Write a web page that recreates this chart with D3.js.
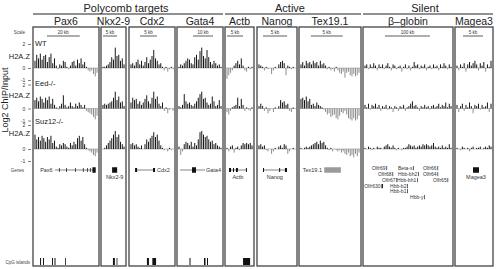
<!DOCTYPE html>
<html>
<head>
<meta charset="utf-8">
<script src="https://cdn.jsdelivr.net/npm/d3@7"></script>
<style>
  body { margin: 0; background: #fff; }
  svg { display: block; font-family: "Liberation Sans", Arial, sans-serif; }
</style>
</head>
<body>
<script>
const width = 497, height = 269

// loci, groups, genotypes
const panelNames = ['Pax6', 'Nkx2-9', 'Cdx2', 'Gata4', 'Actb', 'Nanog', 'Tex19.1', 'β–globin', 'Magea3']
const groupNames = ['Polycomb targets', 'Active', 'Silent']
const groupOf = [0, 0, 0, 0, 1, 1, 1, 2, 2]
const genotypes = ['WT', 'Eed-/-', 'Suz12-/-']
const yTicks = [2, 0, -1]

// window size of each locus and its scale bar (kb)
const windowKb = [39, 8.2, 13, 22, 8.4, 7.9, 9.4, 196, 9]
const scaleKb = [20, 5, 5, 10, 5, 5, 5, 100, 5]
const scaleStartKb = [7.9, 0.36, 2.95, 7.5, 0.3, 1.04, 1.7, 46.8, 1.75]

// H2A.Z log2 ChIP/Input per bin
const pax6WT = [0.6,1.1,0.8,1.2,0.7,1.0,1.1,0.5,0.9,1.2,0.4,0.8,0.2,-0.1,0.3,0.2,0.6,0.5,0.1,-0.1,0.2,0.5,0.6,0.2,0.7,0.4,0.8,0.3,0.5,0.1,-0.2,-0.3,-0.2,-0.5,-0.7,-0.4]
const pax6Eed = [0.7,0.9,0.6,1.0,0.8,0.5,0.9,0.7,1.0,0.4,0.8,0.3,0.1,-0.1,0.2,0.4,1.1,0.3,0.1,0.2,0.5,0.2,0.1,0.4,0.2,0.5,0.3,0.1,0.3,-0.2,-0.3,-0.4,-0.5,-0.7,-0.9,-0.6]
const pax6Suz12 = [1.2,0.8,1.0,0.7,1.1,0.9,0.6,1.0,0.8,1.1,0.5,0.7,0.2,0.1,0.4,0.3,0.5,0.4,0.2,0.1,0.5,0.3,0.6,0.4,0.9,1.1,0.7,1.0,0.4,0.1,-0.1,-0.2,-0.3,-0.5,-0.6,-0.3]

const nkx29WT = [0.1,0.1,0.2,0.3,0.5,0.9,0.7,1.7,1.0,1.1,0.6,0.8,0.3]
const nkx29Eed = [0.3,0.4,0.3,0.4,0.5,0.6,0.9,1.4,0.7,1.0,0.5,0.6,0.2]
const nkx29Suz12 = [0.0,0.1,0.3,0.5,0.7,0.9,1.2,1.5,1.0,1.2,0.6,0.4,0.2]

const cdx2WT = [0.3,0.4,0.2,0.5,0.7,0.3,0.6,0.2,0.5,0.9,0.4,0.7,1.0,1.5,0.8,0.6,0.3,0.4,0.1,-0.2,0.1,-0.3,-0.1,0.1,-0.1]
const cdx2Eed = [0.5,0.9,0.7,0.8,0.4,0.6,0.3,0.5,0.8,1.1,0.6,0.4,0.9,1.4,0.8,1.0,0.4,0.2,0.5,-0.2,0.1,-0.4,-0.1,0.0,-0.2]
const cdx2Suz12 = [0.4,0.5,0.3,0.4,0.2,0.1,0.3,0.0,0.4,0.8,0.6,0.9,1.1,1.4,1.0,1.2,0.7,0.3,0.1,-0.1,0.0,-0.2,0.1,-0.1,0.0]

const gata4WT = [0.1,0.3,0.2,0.4,0.6,0.8,0.7,0.4,0.3,0.9,1.1,0.7,1.4,1.7,1.0,0.8,1.5,0.9,0.5,0.3,0.6,0.4,0.2,0.3,0.1]
const gata4Eed = [0.2,0.1,0.3,1.2,0.6,0.4,0.5,0.3,0.2,0.4,0.6,0.9,1.2,1.4,0.8,0.9,0.5,0.3,0.4,1.0,0.6,0.2,0.3,0.7,0.2]
const gata4Suz12 = [0.2,-0.5,-0.2,0.4,0.6,0.5,0.3,0.6,0.2,0.5,0.3,0.8,1.4,1.5,1.2,1.0,1.1,0.8,0.6,0.7,0.4,0.5,0.3,0.2,0.1]

const actbWT = [-0.9,-0.6,-0.4,-0.2,0.2,0.4,0.6,0.3,0.8,0.2,-0.2,-0.3,0.1,-0.1,0.1]
const actbEed = [-0.3,-0.5,-0.2,0.1,0.2,0.3,0.9,0.2,0.8,0.3,-0.2,0.1,-0.1,-0.2,0.1]
const actbSuz12 = [0.1,-0.2,0.2,0.3,-0.3,0.1,0.2,-0.1,0.3,0.5,0.4,0.5,0.4,0.5,0.3]

const nanogWT = [0.3,0.2,0.1,-0.2,0.1,-0.1,0.0,-0.5,-0.2,0.1,0.0,0.3,0.5,0.6,0.4,-0.6,0.2,0.1,-0.1,0.1,0.0]
const nanogEed = [0.2,0.4,0.2,-0.2,0.1,-0.4,-0.2,0.0,-0.3,0.1,0.0,0.2,0.7,0.5,0.6,0.3,0.4,-0.2,-0.3,0.1,0.0]
const nanogSuz12 = [0.3,0.4,0.2,0.3,-0.1,-0.2,0.0,-0.4,-0.2,0.1,0.0,0.2,0.3,0.1,0.4,0.3,-0.4,-0.2,0.0,0.1,0.0]

const tex191WT = [0.3,0.5,0.2,0.6,0.4,0.5,0.3,0.6,0.4,0.5,0.2,0.6,0.3,0.4,0.2,-0.1,0.1,-0.2,-0.1,-0.3,0.1,-0.2,-0.4,-0.5,-0.3,-0.8,-0.4,-0.3,-0.6,-0.7,-0.5,-0.7,-0.6,-0.4]
const tex191Eed = [0.8,0.9,0.7,1.0,0.6,0.8,0.3,0.4,0.2,0.5,0.3,0.2,0.1,-0.1,-0.3,-0.5,-0.4,-0.7,-0.6,-0.5,-0.8,-0.9,-0.6,-0.3,-0.4,-0.2,-0.5,-0.8,-0.9,-1.0,-0.8,-1.0,-0.9,-0.6]
const tex191Suz12 = [0.1,0.0,0.1,0.2,0.1,0.2,0.3,0.4,0.5,0.6,0.4,0.7,0.5,0.6,0.3,0.1,-0.1,0.1,-0.2,0.0,-0.1,-0.2,-0.1,-0.3,-0.2,-0.4,-0.5,-0.3,-0.6,-0.5,-0.7,-0.4,-0.6,-0.3]

const hbbWT = [0.2,0.3,-0.1,0.3,0.1,0.4,0.2,-0.2,0.3,0.1,0.3,-0.1,0.2,0.4,0.1,-0.2,0.3,0.2,-0.1,0.1,0.2,-0.3,0.1,0.3,-0.1,0.2,-0.2,0.1,0.5,0.2,0.3,-0.1,0.2,0.1,0.3,-0.2,0.1,0.2,-0.1,0.3,0.1,0.2,-0.2,0.3,0.1,0.4,0.2,-0.1,0.3,0.1]
const hbbEed = [0.3,0.1,0.4,-0.1,0.3,0.2,0.4,0.1,0.3,-0.2,0.2,0.1,0.3,-0.1,0.2,0.1,-0.3,0.2,0.1,-0.2,0.2,0.1,0.3,-0.2,0.1,0.2,0.4,0.6,0.2,0.3,0.1,-0.2,0.2,0.1,0.3,0.1,0.2,-0.1,0.2,0.3,0.1,0.2,0.4,0.1,0.3,0.2,0.5,0.1,0.4,0.2]
const hbbSuz12 = [0.1,0.0,0.2,0.1,-0.1,0.1,0.0,0.2,0.1,0.1,0.0,0.2,0.3,0.4,0.2,0.1,0.3,0.1,-0.1,0.1,0.0,-0.1,0.1,0.1,0.2,0.4,0.3,0.2,0.3,0.1,0.2,0.3,0.2,0.4,0.3,0.4,0.3,0.2,0.3,0.5,0.2,0.1,0.2,0.1,0.3,0.1,0.2,0.1,0.4,0.1]

const magea3WT = [0.2,-0.2,0.3,0.1,0.4,-0.3,0.3,0.5,0.2,0.4,0.6,0.3,-0.2,0.4,0.2,0.5,-0.3,0.3,0.1,0.6]
const magea3Eed = [0.3,-0.3,0.2,0.4,-0.2,0.3,0.1,0.5,0.2,-0.4,0.3,0.2,0.4,-0.1,0.3,0.1,0.2,0.5,-0.3,0.4]
const magea3Suz12 = [0.1,0.0,-0.1,0.2,0.1,0.0,0.1,-0.2,0.1,0.2,0.0,0.1,0.1,0.2,0.0,0.1,0.2,0.1,0.3,0.2]

const signal = [
  [pax6WT, pax6Eed, pax6Suz12],
  [nkx29WT, nkx29Eed, nkx29Suz12],
  [cdx2WT, cdx2Eed, cdx2Suz12],
  [gata4WT, gata4Eed, gata4Suz12],
  [actbWT, actbEed, actbSuz12],
  [nanogWT, nanogEed, nanogSuz12],
  [tex191WT, tex191Eed, tex191Suz12],
  [hbbWT, hbbEed, hbbSuz12],
  [magea3WT, magea3Eed, magea3Suz12]
]

// gene models: [locus, startKb, endKb, kind]
const geneParts = [
  [0, 12.8, 37.2, 'line'], [0, 15.2, 15.5, 'exon'], [0, 19.5, 19.8, 'exon'], [0, 25.0, 25.3, 'exon'],
  [0, 29.8, 30.1, 'exon'], [0, 32.3, 32.6, 'exon'], [0, 34.1, 34.4, 'exon'], [0, 35.6, 37.6, 'block'],
  [1, 3.6, 5.4, 'block'],
  [2, 2.1, 7.4, 'line'], [2, 1.5, 2.1, 'exon'], [2, 6.8, 7.4, 'exon'],
  [3, 1.0, 13.5, 'line'], [3, 7.0, 9.0, 'block'],
  [4, 0.93, 6.5, 'line'], [4, 0.93, 1.56, 'exon'], [4, 2.18, 2.5, 'exon'], [4, 3.1, 3.7, 'exon'], [4, 6.2, 6.5, 'exon'],
  [5, 1.04, 6.03, 'line'], [5, 1.04, 1.25, 'exon'], [5, 4.4, 4.6, 'exon'], [5, 5.6, 6.03, 'exon'],
  [6, 3.8, 6.4, 'grey'],
  [8, 4.25, 5.75, 'block']
]
// gene labels: [locus, kb, text, placement]
const geneLabels = [
  [0, 12.0, 'Pax6', 'left'], [1, 4.5, 'Nkx2-9', 'below'], [2, 8.0, 'Cdx2', 'right'],
  [3, 14.0, 'Gata4', 'right'], [4, 3.7, 'Actb', 'below'], [5, 3.5, 'Nanog', 'below'],
  [6, 3.6, 'Tex19.1', 'left'], [8, 5.0, 'Magea3', 'below']
]
// beta-globin cluster labels: [kb, row, text]
const hbbLabels = [
  [17.8, 0, 'Olfr69'], [75.8, 0, 'Beta-s'], [131.5, 0, 'Olfr66'],
  [31.2, 1, 'Olfr68'], [75.8, 1, 'Hbb-bh2'], [131.5, 1, 'Olfr64'],
  [40.1, 2, 'Olfr67'], [73.6, 2, 'Hbb-bh1'], [153.8, 2, 'Olfr65'],
  [0.5, 3, 'Olfr630'], [58, 3, 'Hbb-b2'],
  [58, 4, 'Hbb-b1'],
  [102.6, 5, 'Hbb-y']
]
// CpG islands: [locus, startKb, endKb]
const cpgIslands = [
  [0, 3.7, 4.3], [0, 5.5, 6.1], [0, 11.0, 11.6], [0, 12.5, 13.1], [0, 18.9, 19.3],
  [1, 3.9, 4.6], [1, 5.2, 5.45],
  [2, 5.0, 5.6], [2, 6.6, 7.7],
  [3, 5.75, 6.25], [3, 13.0, 13.75], [3, 14.5, 15.0],
  [4, 5.3, 7.5]
]

// layout
const boxEdges = [[33, 99], [101, 126], [129, 175], [177, 223], [225, 254], [257, 297], [299, 361], [363, 453], [455, 493]]
const boxTop = 27, boxBottom = 266
const baselines = [68, 108.5, 149]
const geneY = 170, cpgY = 258
const hbbRowY = [170, 176, 182, 188, 193, 199]

const svg = d3.select('body').append('svg')
  .attr('width', width)
  .attr('height', height)

// group headers with rules
groupNames.forEach((g, gi) => {
  const idx = d3.range(panelNames.length).filter(i => groupOf[i] == gi)
  const x0 = boxEdges[idx[0]][0], x1 = boxEdges[idx[idx.length - 1]][1]
  svg.append('line')
    .attr('x1', x0).attr('x2', x1).attr('y1', 14).attr('y2', 14)
    .attr('stroke', '#222').attr('stroke-width', 1)
  svg.append('text')
    .attr('x', gi == 0 ? 126 : (x0 + x1) / 2 - 3).attr('y', 11.5)
    .attr('text-anchor', 'middle')
    .style('font-size', '11px').attr('fill', '#222')
    .text(g)
})

// per-locus x scales
const xKb = panelNames.map((n, i) => d3.scaleLinear()
  .domain([0, windowKb[i]])
  .range([boxEdges[i][0] + 1, boxEdges[i][1] - 1]))

panelNames.forEach((name, i) => {
  const [x0, x1] = boxEdges[i]
  const g = svg.append('g')

  g.append('text')
    .attr('x', (x0 + x1) / 2).attr('y', 25)
    .attr('text-anchor', 'middle')
    .style('font-size', '10.5px').attr('fill', '#222')
    .text(name)

  g.append('rect')
    .attr('x', x0).attr('y', boxTop)
    .attr('width', x1 - x0).attr('height', boxBottom - boxTop)
    .attr('fill', 'none').attr('stroke', '#444').attr('stroke-width', 1.3)

  // scale bar
  const sx0 = xKb[i](scaleStartKb[i]), sx1 = xKb[i](scaleStartKb[i] + scaleKb[i])
  g.append('line')
    .attr('x1', sx0).attr('x2', sx1).attr('y1', 36).attr('y2', 36)
    .attr('stroke', '#333').attr('stroke-width', 0.8)
  g.append('text')
    .attr('x', (sx0 + sx1) / 2).attr('y', 34)
    .attr('text-anchor', 'middle')
    .style('font-size', '4.5px').attr('fill', '#333')
    .text(scaleKb[i] + ' kb')

  // signal tracks
  signal[i].forEach((vals, t) => {
    const xb = d3.scaleBand()
      .domain(d3.range(vals.length))
      .range([x0 + 1.5, x1 - 1.5])
      .paddingInner(0.45)
    const y = d3.scaleLinear().domain([-1, 2]).range([baselines[t] + 12, baselines[t] - 24])

    g.append('line')
      .attr('x1', x0 + 1).attr('x2', x1 - 1)
      .attr('y1', y(0)).attr('y2', y(0))
      .attr('stroke', '#999').attr('stroke-width', 0.6)

    g.selectAll('.bar' + t).data(vals).enter()
      .append('rect')
        .attr('x', (d, k) => xb(k))
        .attr('width', xb.bandwidth())
        .attr('y', d => y(Math.max(0, d)))
        .attr('height', d => Math.abs(y(d) - y(0)))
        .attr('fill', d => d >= 0 ? '#111' : '#8a8a8a')
  })
})

// left axes and track labels
baselines.forEach((b, t) => {
  const y = d3.scaleLinear().domain([-1, 2]).range([b + 12, b - 24])
  const ax = svg.append('g')
    .attr('transform', 'translate(31,0)')
    .call(d3.axisLeft(y).tickValues(yTicks).tickSize(3).tickFormat(d => String(d)))
  ax.select('.domain').remove()
  ax.selectAll('line').attr('stroke', '#333').attr('stroke-width', 0.6)
  ax.selectAll('text').style('font-size', '5px').attr('fill', '#333').attr('dx', '0.3')

  svg.append('text')
    .attr('x', 35).attr('y', [46, 86, 124][t])
    .style('font-size', '7.5px').attr('fill', '#222')
    .text(genotypes[t])
  svg.append('text')
    .attr('x', 30).attr('y', [59, 98, 136][t])
    .attr('text-anchor', 'end')
    .style('font-size', '7.5px').attr('fill', '#222')
    .text('H2A.Z')
})

svg.append('text')
  .attr('transform', 'translate(8,100)rotate(-90)')
  .attr('text-anchor', 'middle')
  .style('font-size', '9px').attr('fill', '#222')
  .text('Log2 ChIP/Input')

const sideLabels = [['Scale', 25, 34], ['Genes', 24, 171.5], ['CpG islands', 30, 263.5]]
sideLabels.forEach(([txt, x, yy]) => {
  svg.append('text')
    .attr('x', x).attr('y', yy)
    .attr('text-anchor', 'end')
    .style('font-size', '4.5px').attr('fill', '#444')
    .text(txt)
})

// gene models
geneParts.forEach(([i, s, e, kind]) => {
  const xa = xKb[i](s), xe = xKb[i](e)
  if (kind == 'line') {
    svg.append('line')
      .attr('x1', xa).attr('x2', xe).attr('y1', geneY).attr('y2', geneY)
      .attr('stroke', '#333').attr('stroke-width', 0.6)
  } else {
    const h = kind == 'exon' ? 4 : 5.5
    svg.append('rect')
      .attr('x', xa).attr('y', geneY - h / 2)
      .attr('width', Math.max(0.7, xe - xa)).attr('height', h)
      .attr('fill', kind == 'grey' ? '#9a9a9a' : '#111')
  }
})

geneLabels.forEach(([i, kb, txt, where]) => {
  const x = xKb[i](kb)
  svg.append('text')
    .attr('x', where == 'left' ? x - 1 : x)
    .attr('y', where == 'below' ? geneY + 8.5 : geneY + 2)
    .attr('text-anchor', where == 'left' ? 'end' : where == 'right' ? 'start' : 'middle')
    .style('font-size', '5.5px').attr('fill', '#333')
    .text(txt)
})

hbbLabels.forEach(([kb, row, txt]) => {
  const x = xKb[7](kb)
  const t = svg.append('text')
    .attr('x', x).attr('y', hbbRowY[row])
    .style('font-size', '5px').attr('fill', '#333')
    .text(txt)
  const len = t.node().getComputedTextLength()
  svg.append('rect')
    .attr('x', x + len + 0.8).attr('y', hbbRowY[row] - 4)
    .attr('width', txt == 'Olfr630' ? 1.6 : 0.7).attr('height', 4.2)
    .attr('fill', '#222')
})

// CpG islands
cpgIslands.forEach(([i, s, e]) => {
  svg.append('rect')
    .attr('x', xKb[i](s)).attr('y', cpgY)
    .attr('width', Math.max(0.8, xKb[i](e) - xKb[i](s))).attr('height', 7)
    .attr('fill', '#111')
})
</script>
</body>
</html>
